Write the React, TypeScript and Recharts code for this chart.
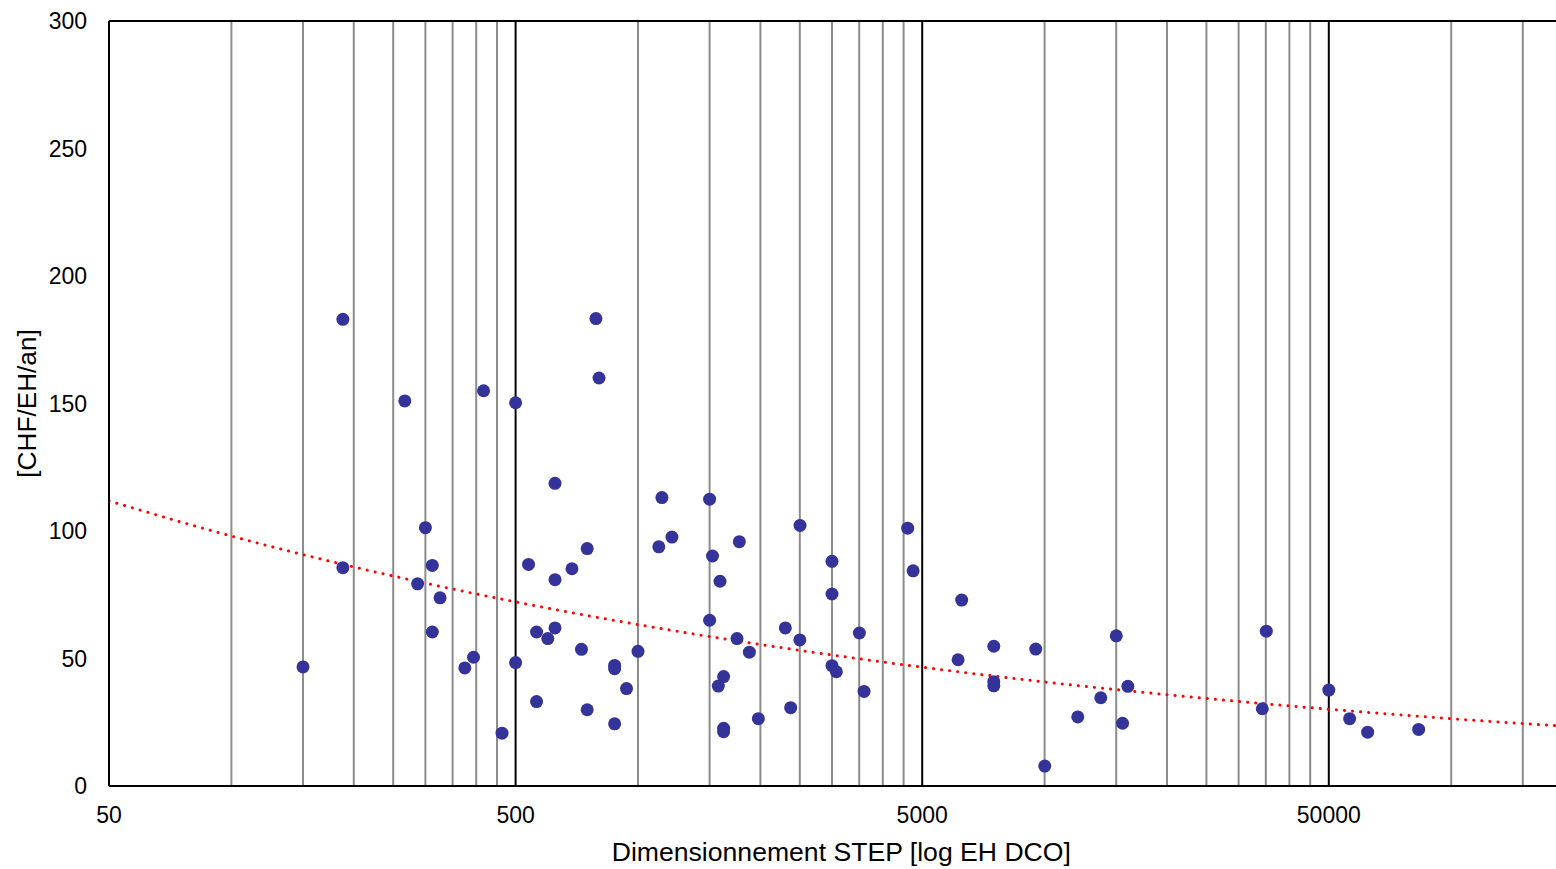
import { ComposedChart, Scatter, Line, XAxis, YAxis, ReferenceLine, Label } from 'recharts'

// STEP size (EH DCO) vs cost (CHF/EH/an)
const stepSize = [
  150, 188, 188, 267, 287, 300, 312, 312, 326, 375,
  394, 417, 463, 500, 500, 538, 563, 563, 600, 625,
  625, 625, 688, 726, 750, 750, 788, 802, 876, 876,
  876, 937, 1000, 1125, 1145, 1212, 1500, 1500, 1525, 1576,
  1591, 1624, 1624, 1624, 1752, 1775, 1879, 1977, 2303, 2374,
  2503, 2500, 3000, 3000, 3000, 3075, 3503, 3597, 4605, 4749,
  6127, 6253, 7500, 7500, 7500, 9510, 10010, 12067, 13746, 15007,
  15552, 16025, 34310, 35100, 50000, 56260, 62300, 83170,
]
const costPerEH = [
  46.7, 183.0, 85.6, 151.0, 79.3, 101.3, 86.5, 60.4, 73.8, 46.3,
  50.5, 155.0, 20.7, 150.3, 48.4, 86.9, 60.4, 33.1, 57.8, 118.7,
  80.9, 62.0, 85.2, 53.6, 93.1, 29.9, 183.3, 160.0, 47.3, 46.0,
  24.4, 38.2, 52.8, 93.8, 113.1, 97.6, 112.5, 65.0, 90.2, 39.2,
  80.3, 42.9, 22.6, 21.3, 57.8, 95.8, 52.5, 26.4, 62.0, 30.7,
  102.2, 57.3, 88.1, 75.3, 47.2, 44.8, 60.0, 37.1, 101.1, 84.4,
  49.5, 72.9, 54.8, 40.9, 39.3, 53.7, 7.8, 27.1, 34.6, 58.9,
  24.6, 39.1, 30.3, 60.7, 37.6, 26.4, 21.1, 22.2,
]

// dotted trend curve
const trendX = [50, 100, 200, 500, 1000, 2000, 5000, 10000, 20000, 50000, 100000, 200000]
const trendY = [111.8, 98.0, 85.9, 72.2, 63.3, 55.5, 46.6, 40.8, 35.8, 30.1, 26.4, 23.2]

const xTicks = [50, 500, 5000, 50000]
const yTicks = [0, 50, 100, 150, 200, 250, 300]
const majorGrid = [500, 5000, 50000]
const minorGrid = [
  100, 150, 200, 250, 300, 350, 400, 450,
  1000, 1500, 2000, 2500, 3000, 3500, 4000, 4500,
  10000, 15000, 20000, 25000, 30000, 35000, 40000, 45000,
  100000, 150000,
]

const points = stepSize.map((x, i) => ({ x, y: costPerEH[i] }))
const trend = trendX.map((x, i) => ({ x, y: trendY[i] }))

const FONT = '"Liberation Sans", Arial, sans-serif'

const Dot = (props: any) => <circle cx={props.cx} cy={props.cy} r={6.5} fill="#333399" />

export default function App() {
  return (
    <div style={{ position: 'absolute', left: 8, top: 8, width: 1548, height: 861, overflow: 'hidden' }}>
      <ComposedChart
        width={1580}
        height={861}
        margin={{ top: 13, right: 14.4, bottom: 0, left: 0 }}
        style={{ fontFamily: FONT }}
      >
        <XAxis
          dataKey="x"
          type="number"
          scale="log"
          domain={[50, 200000]}
          allowDataOverflow
          ticks={xTicks}
          interval={0}
          height={83}
          tickLine={false}
          tickSize={6}
          tickMargin={15}
          axisLine={{ stroke: '#000', strokeWidth: 2 }}
          tick={{ fill: '#000', fontSize: 23, fontFamily: FONT }}
        >
          <Label
            content={({ viewBox }: any) => (
              <text
                x={viewBox.x + viewBox.width / 2}
                y={viewBox.y + 75}
                textAnchor="middle"
                fontSize={26.6}
                fontFamily={FONT}
                fill="#000"
              >
                Dimensionnement STEP [log EH DCO]
              </text>
            )}
          />
        </XAxis>
        <YAxis
          type="number"
          domain={[0, 300]}
          ticks={yTicks}
          interval={0}
          width={101}
          tickLine={false}
          tickSize={6}
          tickMargin={16}
          axisLine={{ stroke: '#000', strokeWidth: 2 }}
          tick={{ fill: '#000', fontSize: 23, fontFamily: FONT }}
        >
          <Label
            content={({ viewBox }: any) => {
              const cx = 28.3
              const cy = viewBox.y + viewBox.height / 2
              return (
                <text
                  x={cx}
                  y={cy}
                  transform={`rotate(-90, ${cx}, ${cy})`}
                  textAnchor="middle"
                  fontSize={26.2}
                  fontFamily={FONT}
                  fill="#000"
                >
                  [CHF/EH/an]
                </text>
              )
            }}
          />
        </YAxis>
        {minorGrid.map((v) => (
          <ReferenceLine key={`mi-${v}`} x={v} stroke="#8c8c8c" strokeWidth={2} />
        ))}
        {majorGrid.map((v) => (
          <ReferenceLine key={`ma-${v}`} x={v} stroke="#000" strokeWidth={2} />
        ))}
        <ReferenceLine y={300} stroke="#000" strokeWidth={2} />
        <Scatter data={points} dataKey="y" shape={Dot} isAnimationActive={false} />
        <Line
          data={trend}
          dataKey="y"
          type="monotone"
          stroke="#ff0000"
          strokeWidth={3}
          strokeDasharray="0.1 8"
          strokeLinecap="round"
          dot={false}
          activeDot={false}
          isAnimationActive={false}
        />
      </ComposedChart>
    </div>
  )
}
